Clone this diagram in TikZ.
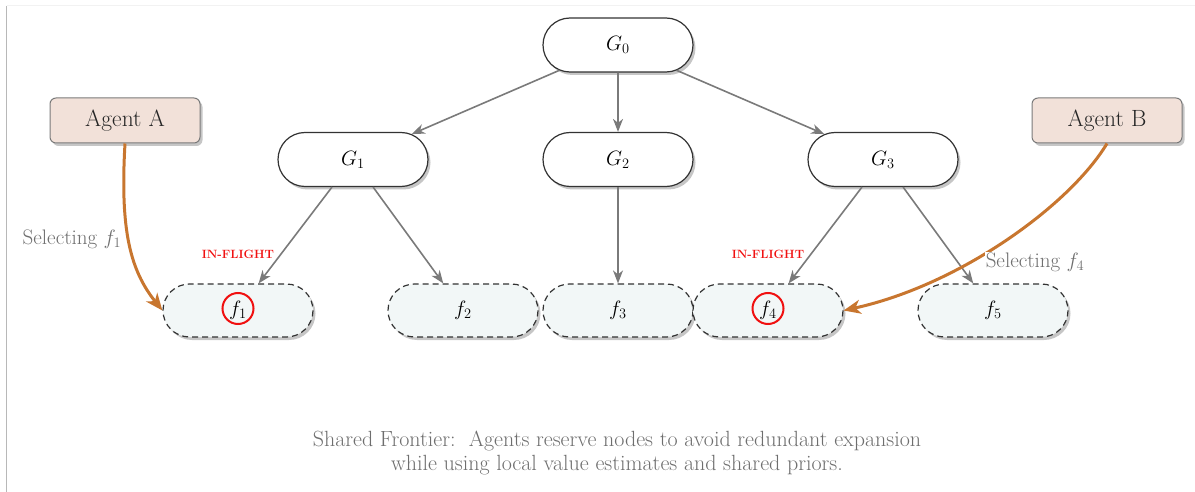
\documentclass[tikz,border=0pt]{standalone}
\usepackage{fontspec}
\usetikzlibrary{shapes.misc,shadows,arrows.meta}
\definecolor{edgegray}{HTML}{7A7A7A}
\definecolor{nodeborder}{HTML}{333333}
\definecolor{ffill}{HTML}{F2F7F7}
\definecolor{agentfill}{HTML}{F2E1D9}
\definecolor{agentborder}{HTML}{7A7A7A}
\definecolor{orangeline}{HTML}{C8762F}
\definecolor{labelgray}{HTML}{6E6E6E}
\definecolor{flightred}{HTML}{F01010}
\tikzset{
  gnode/.style={rounded rectangle, draw=nodeborder, line width=1.2pt, fill=white,
    minimum width=150pt, minimum height=54pt, inner sep=0pt,
    font=\fontsize{22}{24}\selectfont,
    drop shadow={opacity=0.45, shadow xshift=2.5pt, shadow yshift=-3pt}},
  fnode/.style={rounded rectangle, draw=nodeborder, line width=1.2pt, fill=ffill,
    dash pattern=on 6pt off 4pt,
    minimum width=150pt, minimum height=53pt, inner sep=0pt,
    font=\fontsize{22}{24}\selectfont,
    drop shadow={opacity=0.45, shadow xshift=2.5pt, shadow yshift=-3pt}},
  agentbox/.style={rectangle, rounded corners=6pt, draw=agentborder, line width=1pt,
    fill=agentfill, minimum width=150pt, minimum height=45pt, inner sep=0pt,
    text=black!85, font=\fontsize{23.5}{26}\selectfont,
    drop shadow={opacity=0.45, shadow xshift=2.5pt, shadow yshift=-3pt}},
  treeedge/.style={draw=edgegray, line width=1.6pt,
    -{Stealth[length=13pt,width=10pt,inset=4pt]}},
  selectedge/.style={draw=orangeline, line width=3pt,
    -{Stealth[length=17pt,width=14pt,inset=5pt]}},
  sellabel/.style={text=labelgray, font=\fontsize{21}{24}\selectfont, inner sep=1pt},
  flight/.style={text=flightred, font=\bfseries\fontsize{12}{14}\selectfont, inner sep=0pt},
  ringmark/.style={circle, draw=flightred, line width=2pt, minimum size=31pt, inner sep=0pt},
  caption/.style={text=labelgray, align=center, font=\fontsize{22}{24}\selectfont}
}
\begin{document}
\begin{tikzpicture}[x=1pt,y=-1pt]
\useasboundingbox (0,0) rectangle (1195,492);
\draw[draw=black!5, line width=1pt] (6.5,6) -- (1195,6);
\draw[draw=black!28, line width=1.5pt] (6.5,6) -- (6.5,492);

\node[gnode] (G0) at (618,45) {$G_0$};
\node[gnode] (G1) at (353,159.5) {$G_1$};
\node[gnode] (G2) at (618,159.5) {$G_2$};
\node[gnode] (G3) at (883,159.5) {$G_3$};

\node[fnode] (f1) at (238,310.5) {$f_1$};
\node[fnode] (f2) at (463,310.5) {$f_2$};
\node[fnode] (f3) at (618,310.5) {$f_3$};
\node[fnode] (f4) at (768,310.5) {$f_4$};
\node[fnode] (f5) at (993,310.5) {$f_5$};

\node[ringmark] (r1) at (238,308.5) {};
\node[ringmark] (r4) at (768,308.5) {};

\node[agentbox] (A) at (125,120.5) {Agent A};
\node[agentbox] (B) at (1107,120.5) {Agent B};

\draw[treeedge] (G0) -- (G1);
\draw[treeedge] (G0) -- (G2);
\draw[treeedge] (G0) -- (G3);
\draw[treeedge] (G1) -- (f1);
\draw[treeedge] (G1) -- (f2);
\draw[treeedge] (G2) -- (f3);
\draw[treeedge] (G3) -- (f4);
\draw[treeedge] (G3) -- (f5);

\node[flight] (fl1) at (238,254) {IN-FLIGHT};
\node[flight] (fl4) at (768,254) {IN-FLIGHT};

\draw[selectedge] (A.south) .. controls (120,230) and (130,270) .. (f1.west);
\draw[selectedge] (B.south) .. controls (1070,205) and (960,285) .. (f4.east);

\node[sellabel] (sA) at (72,239) {Selecting $f_1$};
\node[sellabel, fill=white] (sB) at (1035,262) {Selecting $f_4$};

\node[caption] (cap) at (617,453) {Shared Frontier:\ \ Agents reserve nodes to avoid redundant expansion\\while using local value estimates and shared priors.};
\end{tikzpicture}
\end{document}
